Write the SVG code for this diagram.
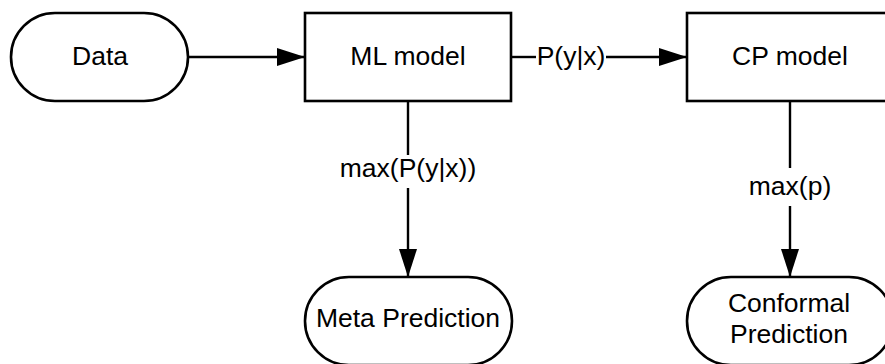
<svg xmlns="http://www.w3.org/2000/svg" width="885" height="364" viewBox="0 0 885 364">
<style>
.shape{fill:#ffffff;stroke:#000000;stroke-width:2.6}
.edge{fill:none;stroke:#000000;stroke-width:2.4}
text{font-family:"Liberation Sans",Arial,sans-serif;font-size:26.5px;fill:#000000;text-anchor:middle}
</style>
<defs>
<marker id="arr" markerUnits="userSpaceOnUse" markerWidth="30" markerHeight="20" refX="28" refY="10" orient="auto">
<path d="M0,1 L28,10 L0,19 Z" fill="#000000"/>
</marker>
</defs>
<rect width="885" height="364" fill="#ffffff"/>
<g id="connectors">
<line class="edge" x1="188" y1="57" x2="305" y2="57" marker-end="url(#arr)"/>
<line class="edge" x1="511" y1="57" x2="536" y2="57"/>
<line class="edge" x1="606" y1="57" x2="687" y2="57" marker-end="url(#arr)"/>
<line class="edge" x1="408" y1="101" x2="408" y2="155"/>
<line class="edge" x1="408" y1="188" x2="408" y2="277" marker-end="url(#arr)"/>
<line class="edge" x1="790" y1="101" x2="790" y2="168"/>
<line class="edge" x1="790" y1="206" x2="790" y2="277" marker-end="url(#arr)"/>
<text x="571" y="65">P(y|x)</text>
<text x="408" y="177">max(P(y|x))</text>
<text x="790" y="195">max(p)</text>
</g>
<g id="data">
<rect class="shape" x="11" y="13" width="177" height="88" rx="44" ry="44"/>
<text x="100" y="65">Data</text>
</g>
<g id="ml-model">
<rect class="shape" x="305" y="13" width="206" height="88"/>
<text x="408" y="65">ML model</text>
</g>
<g id="cp-model">
<rect class="shape" x="687" y="13" width="206" height="88"/>
<text x="790" y="65">CP model</text>
</g>
<g id="meta-prediction">
<rect class="shape" x="305" y="277" width="207" height="88" rx="44" ry="44"/>
<text x="408" y="327">Meta Prediction</text>
</g>
<g id="conformal-prediction">
<rect class="shape" x="687" y="277" width="206" height="88" rx="44" ry="44"/>
<text x="789" y="312">Conformal</text>
<text x="789" y="343">Prediction</text>
</g>
</svg>
